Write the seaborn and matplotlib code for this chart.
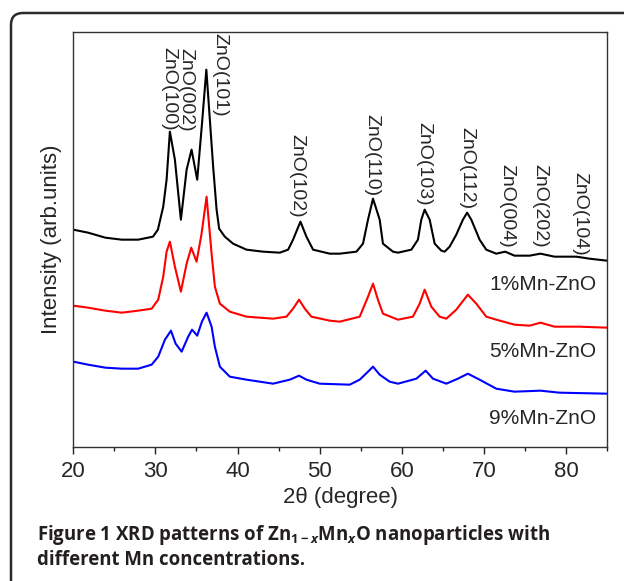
import pandas as pd
import matplotlib.pyplot as plt
import seaborn as sns
from matplotlib.patches import FancyBboxPatch
from matplotlib.ticker import MultipleLocator

# XRD patterns (2theta in degrees, intensity in arb. units)
TT_1 = [20.0, 21.8, 23.9, 25.9, 27.9, 29.7, 30.3, 30.95, 31.36, 31.76, 32.37, 33.1, 33.8, 34.4,
        35.09, 35.66, 36.2, 37.03, 37.45, 37.76, 38.45, 39.46, 41.09, 43.11, 45.15, 46.16, 46.76,
        47.66, 48.39, 49.2, 51.23, 52.45, 54.48, 55.28, 55.89, 56.5, 57.31, 57.71, 58.93, 59.54,
        61.17, 61.97, 62.38, 62.79, 63.4, 64.01, 64.82, 65.22, 65.83, 66.64, 67.45, 67.96, 68.47,
        69.48, 70.29, 71.51, 72.6, 73.73, 75.56, 76.9, 78.6, 81.28, 82.86, 85.0]
INT_1 = [217, 214, 209, 207, 207, 210, 217, 240, 267, 315, 287, 227, 277, 297,
         267, 322, 377, 280, 237, 218, 210, 203, 197, 195, 194, 197, 207,
         225, 210, 197, 193, 193, 195, 203, 227, 248, 227, 203, 195, 194,
         197, 207, 227, 237, 227, 203, 196, 195, 200, 212, 227, 234, 227,
         207, 197, 193, 195, 191, 191, 193, 190, 190, 188, 186]

TT_5 = [20.0, 21.8, 23.9, 25.9, 27.9, 29.54, 30.34, 30.95, 31.36, 31.76, 32.37, 33.1, 33.8, 34.36,
        35.01, 35.6, 36.23, 36.84, 37.24, 37.85, 39.06, 41.09, 44.33, 45.96, 46.76, 47.49, 48.19,
        49.0, 51.23, 52.45, 54.88, 55.89, 56.5, 57.1, 57.71, 59.54, 61.36, 62.18, 62.79, 63.6,
        64.61, 65.43, 66.64, 68.05, 69.08, 70.29, 71.51, 73.73, 75.56, 76.9, 78.6, 81.64, 85.0]
INT_5 = [141, 139, 136, 134, 136, 138, 147, 170, 195, 205, 180, 155, 183, 199,
         185, 212, 250, 193, 160, 143, 135, 130, 128, 130, 138, 147, 138,
         130, 126, 125, 130, 150, 163, 147, 133, 127, 130, 143, 157, 140,
         130, 128, 137, 152, 143, 130, 127, 122, 121, 124, 120, 120, 119]

TT_9 = [20.0, 21.8, 23.9, 25.9, 27.9, 29.54, 30.34, 31.16, 31.89, 32.46, 33.19, 33.99, 34.46, 35.09,
        35.66, 36.23, 36.84, 37.24, 37.85, 39.06, 41.09, 44.33, 46.36, 47.49, 48.39, 50.01, 53.66,
        54.88, 55.89, 56.5, 57.31, 58.53, 59.54, 61.78, 62.91, 63.8, 65.43, 66.84, 68.05, 69.48,
        71.51, 73.73, 76.9, 79.21, 85.0]
INT_9 = [85, 82, 79, 78, 78, 82, 90, 107, 116, 103, 95, 110, 117, 111,
         125, 134, 120, 100, 80, 70, 67, 63, 67, 71, 67, 63, 62,
         67, 75, 80, 72, 65, 63, 68, 76, 68, 63, 68, 73, 67,
         58, 55, 56, 54, 53]

SAMPLES = ['1%Mn-ZnO', '5%Mn-ZnO', '9%Mn-ZnO']
COLORS = ['#000000', '#ff0000', '#0000ff']

# reflections marked above the top pattern
PEAK_NAMES = ['ZnO(100)', 'ZnO(002)', 'ZnO(101)', 'ZnO(102)', 'ZnO(110)',
              'ZnO(103)', 'ZnO(112)', 'ZnO(004)', 'ZnO(202)', 'ZnO(104)']
PEAK_TT = [31.6, 33.7, 37.85, 47.25, 56.35, 62.7, 67.95, 72.8, 76.85, 81.75]
PEAK_TOP = [400, 399, 414, 313, 333, 325, 320, 283, 283, 275]

# where the sample names sit (intensity of the text centre)
SAMPLE_LABEL_Y = [162, 95, 28]


def main():
    sns.set_style('white')
    plt.rcParams['font.family'] = ['Liberation Sans', 'DejaVu Sans']
    plt.rcParams['mathtext.fontset'] = 'custom'
    plt.rcParams['mathtext.rm'] = 'Open Sans:bold'
    plt.rcParams['mathtext.it'] = 'Open Sans:italic:bold'
    plt.rcParams['mathtext.bf'] = 'Open Sans:bold'

    frames = []
    for name, tt, inten in zip(SAMPLES, [TT_1, TT_5, TT_9], [INT_1, INT_5, INT_9]):
        frames.append(pd.DataFrame({'two_theta': tt, 'intensity': inten, 'sample': name}))
    df = pd.concat(frames, ignore_index=True)

    fig = plt.figure(figsize=(6.24, 5.81), dpi=100)
    ax = fig.add_axes([0.1175, 0.2312, 0.8553, 0.7143])

    sns.lineplot(data=df, x='two_theta', y='intensity', hue='sample',
                 palette=dict(zip(SAMPLES, COLORS)), sort=False, estimator=None,
                 linewidth=1.5, legend=False, ax=ax)

    ax.set_xlim(20, 85)
    ax.set_ylim(0, 415)
    ax.xaxis.set_major_locator(MultipleLocator(10))
    ax.xaxis.set_minor_locator(MultipleLocator(5))
    ax.set_yticks([])
    ax.tick_params(axis='x', which='major', direction='out', length=5, width=1,
                   labelsize=16, pad=5, bottom=True, color='#222222')
    ax.tick_params(axis='x', which='minor', direction='out', length=3, width=1,
                   bottom=True, color='#222222')
    for sp in ax.spines.values():
        sp.set_color('#333333')
        sp.set_linewidth(1.0)

    ax.set_xlabel('2θ (degree)', fontsize=16, labelpad=4)
    ax.set_ylabel('Intensity (arb.units)', fontsize=16, labelpad=8.5)

    # peak labels, rotated and read from top to bottom
    for name, tt, top in zip(PEAK_NAMES, PEAK_TT, PEAK_TOP):
        ax.text(tt, top, name, rotation=-90, ha='center', va='top', fontsize=14)

    for name, y in zip(SAMPLES, SAMPLE_LABEL_Y):
        ax.text(83.7, y, name, ha='right', va='center', fontsize=15)

    # rounded outer frame and caption
    frame = FancyBboxPatch((0.11, -0.6), 7.0, 6.28, boxstyle='round,pad=0,rounding_size=0.12',
                           transform=fig.dpi_scale_trans, fill=False, edgecolor='#2b2b2b',
                           linewidth=1.8, clip_on=False)
    fig.add_artist(frame)

    fig.text(37 / 624, 1 - 540 / 581, r'Figure 1 XRD patterns of Zn$_{1-x}$Mn$_{x}$O nanoparticles with',
             family='Open Sans', fontweight='bold', fontsize=13.4, color='#231f20', va='baseline')
    fig.text(37 / 624, 1 - 565 / 581, 'different Mn concentrations.',
             family='Open Sans', fontweight='bold', fontsize=13.4, color='#231f20', va='baseline')

    fig.savefig('out.png', dpi=100)


if __name__ == '__main__':
    main()
